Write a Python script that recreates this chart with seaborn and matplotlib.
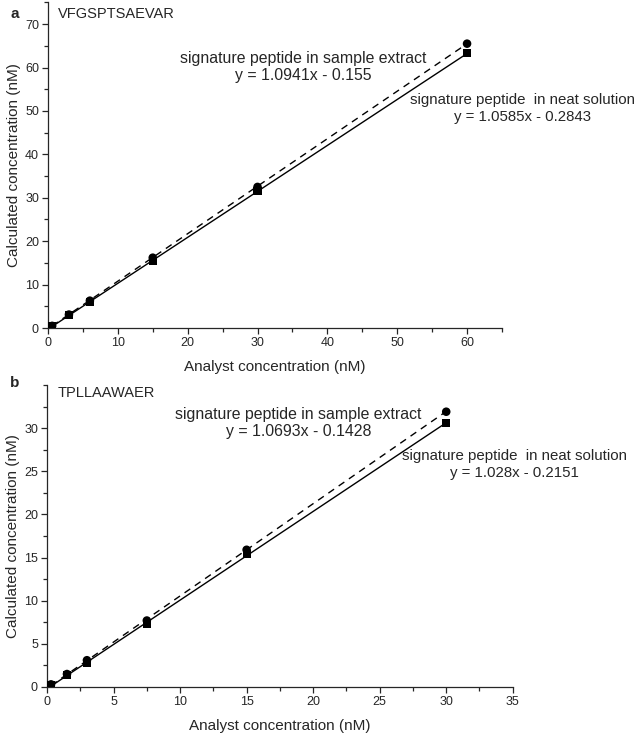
import numpy as np
import pandas as pd
import seaborn as sns
import matplotlib.pyplot as plt

sns.set_style("ticks")
plt.rcParams['font.family'] = ['Liberation Sans', 'DejaVu Sans']

# panel a - VFGSPTSAEVAR
a_x = [0.6, 3, 6, 15, 30, 60]
a_extract = [0.5, 3.1, 6.3, 16.2, 32.5, 65.5]
a_neat = [0.4, 3.0, 6.0, 15.5, 31.5, 63.3]
a_fit_extract = (1.0941, -0.155)
a_fit_neat = (1.0585, -0.2843)

# panel b - TPLLAAWAER
b_x = [0.3, 1.5, 3, 7.5, 15, 30]
b_extract = [0.3, 1.5, 3.1, 7.7, 15.9, 31.9]
b_neat = [0.25, 1.4, 2.8, 7.3, 15.4, 30.6]
b_fit_extract = (1.0693, -0.1428)
b_fit_neat = (1.028, -0.2151)

fig = plt.figure(figsize=(6.38, 7.33), dpi=100)
ax_a = fig.add_axes([0.0752, 0.5525, 0.7116, 0.4442])
ax_b = fig.add_axes([0.0737, 0.0628, 0.7300, 0.4120])


def draw_panel(ax, x, ext, neat, fit_e, fit_n, xmax, ymax, xstep, ystep):
    x = np.array(x, dtype=float)
    df = pd.DataFrame({'x': x, 'ext': ext, 'neat': neat,
                       'fit_e': fit_e[0] * x + fit_e[1],
                       'fit_n': fit_n[0] * x + fit_n[1]})
    sns.lineplot(data=df, x='x', y='fit_e', ax=ax, color='black', lw=1.0,
                 linestyle=(0, (5, 4)))
    sns.lineplot(data=df, x='x', y='fit_n', ax=ax, color='black', lw=1.0)
    sns.scatterplot(data=df, x='x', y='ext', ax=ax, marker='o', s=38,
                    color='black', edgecolor='none', zorder=3)
    sns.scatterplot(data=df, x='x', y='neat', ax=ax, marker='s', s=34,
                    color='black', edgecolor='none', zorder=3)
    ax.set_xlim(0, xmax)
    ax.set_ylim(0, ymax)
    ax.set_xticks(np.arange(0, xmax + 0.01, xstep))
    ax.set_yticks(np.arange(0, ymax - ystep / 2 + 0.01, ystep))
    ax.set_xticks(np.arange(0, xmax + 0.01, xstep / 2), minor=True)
    ax.set_yticks(np.arange(0, ymax + 0.01, ystep / 2), minor=True)
    ax.tick_params(which='major', length=4.5, width=0.9, labelsize=9, pad=2)
    ax.tick_params(which='minor', length=3, width=0.9)
    sns.despine(ax=ax)
    for s in ['left', 'bottom']:
        ax.spines[s].set_linewidth(0.9)
    ax.set_xlabel('Analyst concentration (nM)', fontsize=11, labelpad=8)
    ax.set_ylabel('Calculated concentration (nM)', fontsize=11, labelpad=3)


draw_panel(ax_a, a_x, a_extract, a_neat, a_fit_extract, a_fit_neat, 65, 75, 10, 10)
draw_panel(ax_b, b_x, b_extract, b_neat, b_fit_extract, b_fit_neat, 35, 35, 5, 5)

fs = 11.4
fs_n = 10.8
ax_a.text(0.022, 0.985, 'VFGSPTSAEVAR', transform=ax_a.transAxes, fontsize=10.5, va='top')
ax_a.text(36.6, 60.1, 'signature peptide in sample extract\ny = 1.0941x - 0.155',
          fontsize=fs, ha='center', va='center', linespacing=1.2)
ax_a.text(68.0, 50.6, 'signature peptide  in neat solution\ny = 1.0585x - 0.2843',
          fontsize=fs_n, ha='center', va='center', linespacing=1.25)
ax_b.text(0.022, 0.995, 'TPLLAAWAER', transform=ax_b.transAxes, fontsize=10.5, va='top')
ax_b.text(18.9, 30.6, 'signature peptide in sample extract\ny = 1.0693x - 0.1428',
          fontsize=fs, ha='center', va='center', linespacing=1.2)
ax_b.text(35.1, 25.8, 'signature peptide  in neat solution\ny = 1.028x - 0.2151',
          fontsize=fs_n, ha='center', va='center', linespacing=1.25)

fig.text(0.016, 0.981, 'a', fontsize=11, fontweight='bold', va='center')
fig.text(0.016, 0.478, 'b', fontsize=11, fontweight='bold', va='center')

fig.savefig('out.png', dpi=100)
